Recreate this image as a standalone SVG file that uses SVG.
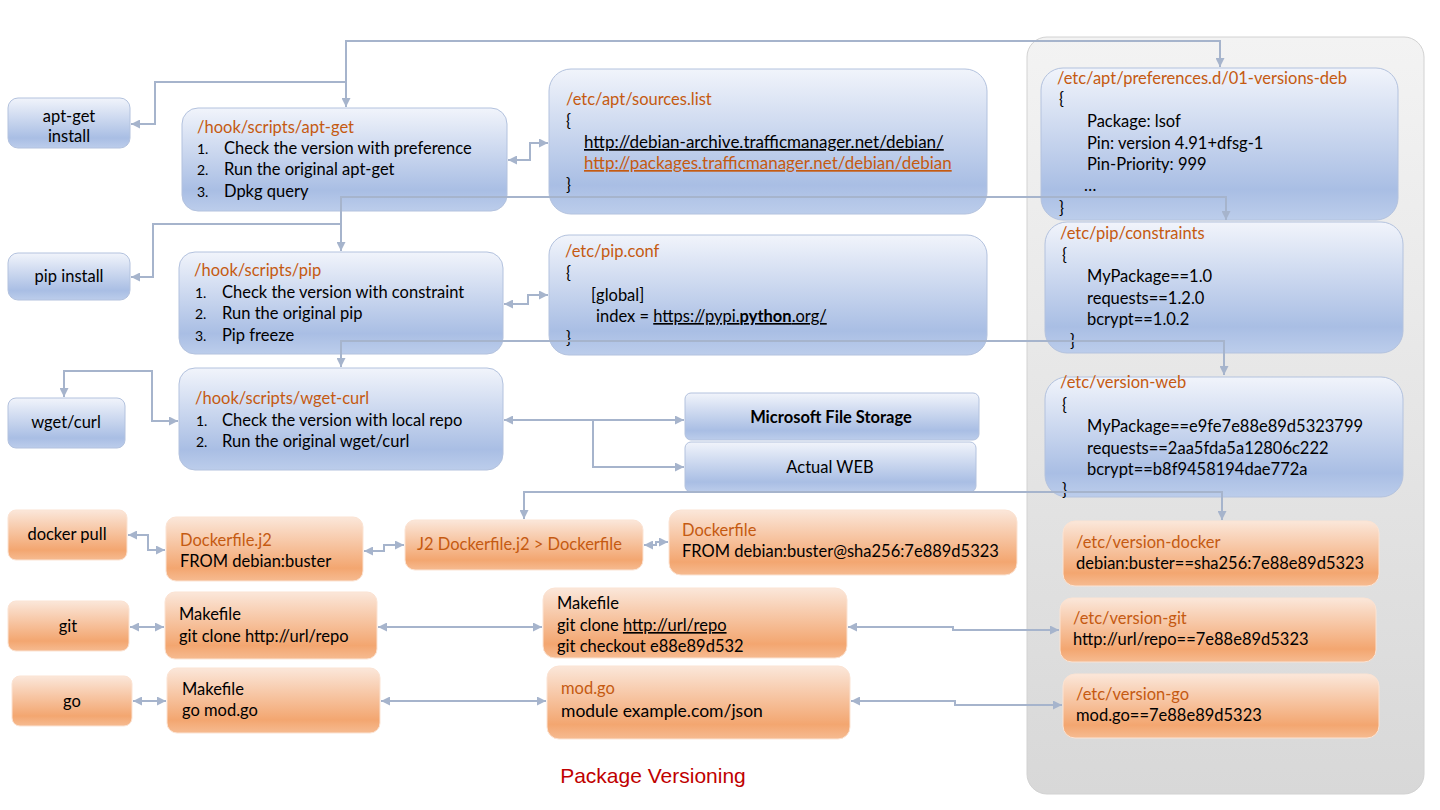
<svg xmlns="http://www.w3.org/2000/svg" width="1440" height="810" viewBox="0 0 1440 810">
<defs>
<linearGradient id="gBlue" x1="0" y1="0" x2="0" y2="1">
<stop offset="0" stop-color="#f1f4fb"/>
<stop offset="0.8" stop-color="#a9bee4"/>
<stop offset="1" stop-color="#bccdeb"/>
</linearGradient>
<linearGradient id="gOrange" x1="0" y1="0" x2="0" y2="1">
<stop offset="0" stop-color="#fbe7da"/>
<stop offset="0.8" stop-color="#f3a670"/>
<stop offset="1" stop-color="#f6bb91"/>
</linearGradient>
<linearGradient id="gPanel" x1="0" y1="0" x2="0" y2="1">
<stop offset="0" stop-color="#f3f3f3"/>
<stop offset="1" stop-color="#d8d8d8"/>
</linearGradient>
<marker id="ah" viewBox="0 0 10 10" refX="10" refY="5" markerWidth="9" markerHeight="9" markerUnits="userSpaceOnUse" orient="auto-start-reverse">
<path d="M0,0 L10,5 L0,10 z" fill="#a6b4cc"/>
</marker>
</defs>
<style>
.blue{fill:url(#gBlue);stroke:#b3c2de;stroke-width:1}
.orange{fill:url(#gOrange);stroke:#fbe3d3;stroke-width:1}
text{font-family:Lato,"Open Sans","Liberation Sans",sans-serif;font-size:16.5px;fill:#000}
.t{fill:#c55a11}
.c{text-anchor:middle}
.n{font-size:14px}
.b{font-weight:bold}
.u{text-decoration:underline}
.url{font-size:17px}
.con{fill:none;stroke:#a6b4cc;stroke-width:2}
.e{marker-end:url(#ah)}
.s{marker-start:url(#ah)}
</style>
<g id="panel">
<rect x="1027" y="37" width="397" height="757" rx="20" fill="url(#gPanel)" stroke="#d2d2d2"/>
</g>

<g id="apt-get-install"><rect class="blue" x="8" y="98" width="122" height="50" rx="10"/>
<text class="c" x="69" y="122">apt-get</text><text class="c" x="69" y="142">install</text></g>

<g id="hook-apt-get"><rect class="blue" x="182" y="108" width="325" height="103" rx="16"/>
<text class="t" x="197" y="133">/hook/scripts/apt-get</text>
<text class="n" x="197" y="154">1.</text><text x="224" y="154">Check the version with preference</text>
<text class="n" x="197" y="175">2.</text><text x="224" y="175">Run the original apt-get</text>
<text class="n" x="197" y="197">3.</text><text x="224" y="197">Dpkg query</text></g>

<g id="sources-list"><rect class="blue" x="549" y="69" width="438" height="145" rx="22"/>
<text class="t" x="566" y="105">/etc/apt/sources.list</text>
<text x="566" y="127">{</text>
<text class="u url" x="584" y="148">http://debian-archive.trafficmanager.net/debian/</text>
<text class="t u url" x="584" y="169">http://packages.trafficmanager.net/debian/debian</text>
<text x="566" y="191">}</text></g>

<g id="preferences"><rect class="blue" x="1041" y="68" width="357" height="152" rx="22"/>
<text class="t" x="1057" y="84">/etc/apt/preferences.d/01-versions-deb</text>
<text x="1059" y="105">{</text>
<text x="1087" y="127">Package: lsof</text>
<text x="1087" y="149">Pin: version 4.91+dfsg-1</text>
<text x="1087" y="170">Pin-Priority: 999</text>
<text x="1084" y="191">…</text>
<text x="1059" y="214">}</text></g>

<g id="pip-install"><rect class="blue" x="8" y="253" width="122" height="47" rx="10"/>
<text class="c" x="69" y="282">pip install</text></g>

<g id="hook-pip"><rect class="blue" x="179" y="252" width="324" height="102" rx="16"/>
<text class="t" x="194" y="276">/hook/scripts/pip</text>
<text class="n" x="195" y="298">1.</text><text x="222" y="298">Check the version with constraint</text>
<text class="n" x="195" y="319">2.</text><text x="222" y="319">Run the original pip</text>
<text class="n" x="195" y="341">3.</text><text x="222" y="341">Pip freeze</text></g>

<g id="pip-conf"><rect class="blue" x="549" y="235" width="438" height="120" rx="20"/>
<text class="t" x="565" y="257">/etc/pip.conf</text>
<text x="566" y="279">{</text>
<text x="591" y="301">[global]</text>
<text x="596" y="322">index = <tspan class="u">https://pypi.<tspan class="b">python</tspan>.org/</tspan></text>
<text x="566" y="344">}</text></g>

<g id="constraints"><rect class="blue" x="1045" y="222" width="358" height="131" rx="22"/>
<text class="t" x="1060" y="239">/etc/pip/constraints</text>
<text x="1062" y="261">{</text>
<text x="1087" y="282">MyPackage==1.0</text>
<text x="1087" y="304">requests==1.2.0</text>
<text x="1087" y="325">bcrypt==1.0.2</text>
<text x="1070" y="347">}</text></g>

<g id="wget-curl"><rect class="blue" x="8" y="398" width="117" height="50" rx="8"/>
<text class="c" x="66" y="428">wget/curl</text></g>

<g id="hook-wget-curl"><rect class="blue" x="179" y="368" width="324" height="102" rx="16"/>
<text class="t" x="195" y="404">/hook/scripts/wget-curl</text>
<text class="n" x="196" y="426">1.</text><text x="222" y="426">Check the version with local repo</text>
<text class="n" x="196" y="447">2.</text><text x="222" y="447">Run the original wget/curl</text></g>

<g id="ms-file-storage"><rect class="blue" x="685" y="393" width="294" height="47" rx="6"/>
<text class="c b" x="831" y="423">Microsoft File Storage</text></g>

<g id="actual-web"><rect class="blue" x="685" y="442" width="291" height="50" rx="6"/>
<text class="c" x="830" y="473">Actual WEB</text></g>

<g id="version-web"><rect class="blue" x="1045" y="377" width="358" height="120" rx="22"/>
<text class="t" x="1060" y="388">/etc/version-web</text>
<text x="1062" y="411">{</text>
<text x="1087" y="432">MyPackage==e9fe7e88e89d5323799</text>
<text x="1087" y="454">requests==2aa5fda5a12806c222</text>
<text x="1087" y="475">bcrypt==b8f9458194dae772a</text>
<text x="1062" y="496">}</text></g>

<g id="docker-pull"><rect class="orange" x="8" y="510" width="119" height="50" rx="8"/>
<text class="c" x="67" y="540">docker pull</text></g>

<g id="dockerfile-j2"><rect class="orange" x="166" y="517" width="197" height="64" rx="10"/>
<text class="t" x="180" y="546">Dockerfile.j2</text>
<text x="180" y="567">FROM debian:buster</text></g>

<g id="j2-render"><rect class="orange" x="405" y="520" width="238" height="50" rx="10"/>
<text class="t" x="417" y="550">J2 Dockerfile.j2 &gt; Dockerfile</text></g>

<g id="dockerfile"><rect class="orange" x="669" y="510" width="348" height="65" rx="12"/>
<text class="t" x="682" y="536">Dockerfile</text>
<text x="682" y="557">FROM debian:buster@sha256:7e889d5323</text></g>

<g id="version-docker"><rect class="orange" x="1063" y="521" width="316" height="65" rx="12"/>
<text class="t" x="1076" y="548">/etc/version-docker</text>
<text x="1076" y="569">debian:buster==sha256:7e88e89d5323</text></g>

<g id="git"><rect class="orange" x="8" y="601" width="121" height="50" rx="8"/>
<text class="c" x="68" y="632">git</text></g>

<g id="makefile-git"><rect class="orange" x="165" y="592" width="212" height="67" rx="10"/>
<text x="179" y="620">Makefile</text>
<text x="179" y="642">git clone http://url/repo</text></g>

<g id="makefile-git-pinned"><rect class="orange" x="543" y="588" width="304" height="70" rx="12"/>
<text x="557" y="609">Makefile</text>
<text x="557" y="631">git clone <tspan class="u">http://url/repo</tspan></text>
<text x="557" y="652">git checkout e88e89d532</text></g>

<g id="version-git"><rect class="orange" x="1060" y="598" width="316" height="64" rx="12"/>
<text class="t" x="1073" y="624">/etc/version-git</text>
<text x="1073" y="645">http://url/repo==7e88e89d5323</text></g>

<g id="go"><rect class="orange" x="12" y="676" width="120" height="50" rx="8"/>
<text class="c" x="72" y="707">go</text></g>

<g id="makefile-go"><rect class="orange" x="167" y="668" width="213" height="65" rx="10"/>
<text x="182" y="695">Makefile</text>
<text x="182" y="716">go mod.go</text></g>

<g id="mod-go"><rect class="orange" x="547" y="666" width="303" height="73" rx="12"/>
<text class="t" x="561" y="694">mod.go</text>
<text x="561" y="717" style="font-size:17.5px">module example.com/json</text></g>

<g id="version-go"><rect class="orange" x="1063" y="674" width="316" height="64" rx="12"/>
<text class="t" x="1076" y="700">/etc/version-go</text>
<text x="1076" y="721">mod.go==7e88e89d5323</text></g>

<g id="connectors">
<path class="con s e" d="M1220 67 V41 H346 V107"/>
<path class="con e" d="M346 82 H155 V124 H131"/>
<path class="con s e" d="M508 160 H530 V143 H548"/>
<path class="con s e" d="M1226 220 V197 H341 V251"/>
<path class="con e" d="M341 224 H153 V277 H131"/>
<path class="con s e" d="M504 304 H528 V295 H548"/>
<path class="con s e" d="M1224 375 V341 H341 V367"/>
<path class="con s e" d="M64 397 V371 H152 V421 H178"/>
<path class="con s e" d="M504 420 H684"/>
<path class="con e" d="M593 420 V467 H684"/>
<path class="con s e" d="M524 519 V492 H1222 V520"/>
<path class="con s e" d="M128 535 H148 V550 H165"/>
<path class="con s e" d="M364 551 H384 V545 H404"/>
<path class="con s e" d="M644 545 H656 V542 H668"/>
<path class="con s e" d="M130 627 H164"/>
<path class="con s e" d="M378 627 H542"/>
<path class="con s e" d="M848 627 H953 V630 H1059"/>
<path class="con s e" d="M133 701 H166"/>
<path class="con s e" d="M381 701 H546"/>
<path class="con s e" d="M851 701 H955 V705 H1062"/>
</g>

<text x="653" y="783" style="font-family:'Liberation Sans',Arial,sans-serif;font-size:21px;fill:#c00000;text-anchor:middle">Package Versioning</text>
</svg>
